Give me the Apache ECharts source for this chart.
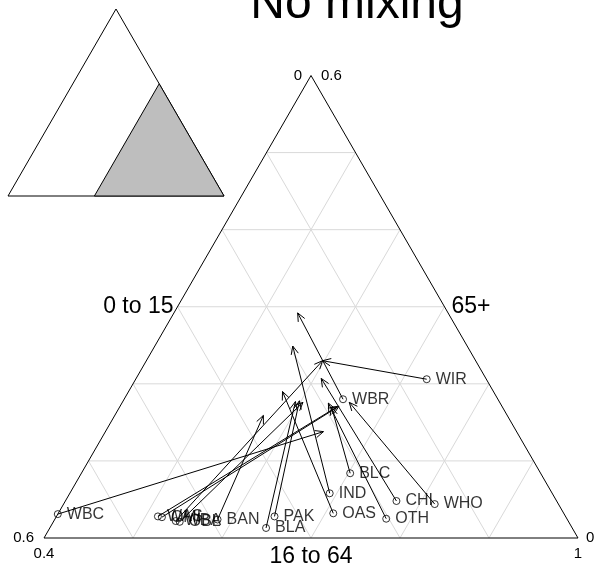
<!DOCTYPE html>
<html><head><meta charset="utf-8">
<script src="https://cdn.jsdelivr.net/npm/echarts/dist/echarts.min.js"></script>
<style>html,body{margin:0;padding:0;background:#fff}#c{width:616px;height:577px}</style>
</head><body><div id="c"></div>
<script>
// ---- data (shares of each age band) ----
const groups = ['WBR','WIR','WHO','WBC','WAS','OMI','WBA','OBL','IND','PAK','BAN','OAS','BLC','BLA','CHI','OTH'];
// starting composition (circles)
const start0to15  = [0.174,0.067,0.139,0.569,0.458,0.454,0.441,0.437,0.250,0.327,0.393,0.259,0.214,0.344,0.180,0.203];
const start16to64 = [0.646,0.727,0.817,0.400,0.514,0.519,0.537,0.542,0.692,0.645,0.583,0.709,0.702,0.643,0.772,0.772];
const start65plus = [0.180,0.206,0.044,0.031,0.028,0.027,0.022,0.021,0.058,0.028,0.024,0.032,0.084,0.013,0.048,0.025];
// projected composition (arrow heads)
const end0to15  = [0.169,0.172,0.169,0.217,0.186,0.183,0.172,0.221,0.196,0.224,0.274,0.237,0.192,0.229,0.185,0.193];
const end16to64 = [0.539,0.598,0.655,0.645,0.644,0.646,0.598,0.603,0.555,0.598,0.567,0.573,0.638,0.594,0.608,0.632];
const end65plus = [0.292,0.230,0.176,0.138,0.170,0.171,0.230,0.176,0.249,0.178,0.159,0.190,0.170,0.177,0.207,0.175];

const title = 'No mixing';
const axisTitles = {left:'0 to 15', bottom:'16 to 64', right:'65+'};
// plotted window of the simplex
const min16to64 = 0.4, max16to64 = 1.0;
const max0to15 = 0.6, max65plus = 0.6;
const tickLabels = {leftTop:'0', leftBottom:'0.6', rightTop:'0.6', rightBottom:'0', bottomLeft:'0.4', bottomRight:'1'};
const gridSteps = [0.1,0.2,0.3,0.4,0.5];

// ---- helpers ----
const S3 = Math.sqrt(3)/2;
function tern(p, o){ return [p + o/2, o*S3]; } // (16-64, 65+) -> cartesian in full simplex

const vBL = tern(min16to64, 0), vBR = tern(max16to64, 0), vTop = tern(min16to64, max65plus);

const gridSegs = [];
gridSteps.forEach(v=>{
  gridSegs.push([...tern(min16to64, v), ...tern(1-v, v)]);                 // 65+ = v
  gridSegs.push([...tern(1-v, 0), ...tern(min16to64, 1-min16to64-v)]);      // 0-15 = v
  const p = min16to64 + v;
  gridSegs.push([...tern(p, 0), ...tern(p, 1-p)]);                          // 16-64 = 0.4+v
});

const arrows = groups.map((g,i)=>[...tern(start16to64[i], start65plus[i]), ...tern(end16to64[i], end65plus[i])]);
const pts = groups.map((g,i)=>({name:g, value: tern(start16to64[i], start65plus[i])}));

const FONT = '"Liberation Sans", Arial, Helvetica, sans-serif';
const chart = echarts.init(document.getElementById('c'), null, {renderer:'canvas'});

function txt(x,y,text,size,align,valign){
  return {type:'text', x:x, y:y, style:{text:text, font: size+'px '+FONT, fill:'#000', textAlign:align, textVerticalAlign:valign}};
}

chart.setOption({
  animation:false,
  backgroundColor:'#fff',
  grid:[
    {left:44, top:75.5, width:534, height:462.5},
    {left:8, top:9, width:216, height:187}
  ],
  xAxis:[
    {gridIndex:0, type:'value', min:vBL[0], max:vBR[0], show:false},
    {gridIndex:1, type:'value', min:0, max:1, show:false}
  ],
  yAxis:[
    {gridIndex:0, type:'value', min:0, max:vTop[1], show:false},
    {gridIndex:1, type:'value', min:0, max:S3, show:false}
  ],
  series:[
    {type:'custom', xAxisIndex:1, yAxisIndex:1, data:[[0]], silent:true, z:1,
     renderItem(params, api){
       const A = api.coord(tern(0,0)), B = api.coord(tern(1,0)), C = api.coord(tern(0,1));
       const a = api.coord(vBL), b = api.coord(vBR), c = api.coord(tern(min16to64, 1-min16to64));
       return {type:'group', children:[
         {type:'polygon', shape:{points:[A,B,C]}, style:{fill:'#fff', stroke:'#000', lineWidth:1}},
         {type:'polygon', shape:{points:[a,b,c]}, style:{fill:'#bebebe', stroke:'#000', lineWidth:1}}
       ]};
     }},
    {type:'custom', data:gridSegs, silent:true, z:2, encode:{x:[0,2], y:[1,3]},
     renderItem(params, api){
       const s = api.coord([api.value(0), api.value(1)]), e = api.coord([api.value(2), api.value(3)]);
       return {type:'line', shape:{x1:s[0],y1:s[1],x2:e[0],y2:e[1]}, style:{stroke:'#d9d9d9', lineWidth:1}};
     }},
    {type:'custom', data:[[0]], silent:true, z:3,
     renderItem(params, api){
       const a = api.coord(vBL), b = api.coord(vBR), c = api.coord(vTop);
       const mL = [(a[0]+c[0])/2, (a[1]+c[1])/2], mR = [(b[0]+c[0])/2, (b[1]+c[1])/2], mB = [(a[0]+b[0])/2, a[1]];
       return {type:'group', children:[
         {type:'polygon', shape:{points:[a,b,c]}, style:{fill:null, stroke:'#000', lineWidth:1}},
         txt(c[0]-9, c[1], tickLabels.leftTop, 15, 'right', 'middle'),
         txt(c[0]+10, c[1], tickLabels.rightTop, 15, 'left', 'middle'),
         txt(a[0]-10, a[1], tickLabels.leftBottom, 15, 'right', 'middle'),
         txt(a[0], a[1]+16, tickLabels.bottomLeft, 15, 'center', 'middle'),
         txt(b[0]+8, b[1], tickLabels.rightBottom, 15, 'left', 'middle'),
         txt(b[0], b[1]+16, tickLabels.bottomRight, 15, 'center', 'middle'),
         txt(mL[0]-4, mL[1], axisTitles.left, 23, 'right', 'middle'),
         txt(mR[0]+7, mR[1], axisTitles.right, 23, 'left', 'middle'),
         txt(mB[0], mB[1]+19, axisTitles.bottom, 23, 'center', 'middle')
       ]};
     }},
    {type:'custom', data:arrows, silent:true, z:4, encode:{x:[0,2], y:[1,3]},
     renderItem(params, api){
       const s = api.coord([api.value(0), api.value(1)]), e = api.coord([api.value(2), api.value(3)]);
       const ang = Math.atan2(e[1]-s[1], e[0]-s[0]);
       const L = 9, A = Math.PI/7.5;
       const h1 = [e[0]-L*Math.cos(ang-A), e[1]-L*Math.sin(ang-A)];
       const h2 = [e[0]-L*Math.cos(ang+A), e[1]-L*Math.sin(ang+A)];
       return {type:'group', children:[
         {type:'line', shape:{x1:s[0],y1:s[1],x2:e[0],y2:e[1]}, style:{stroke:'#000', lineWidth:1}},
         {type:'polyline', shape:{points:[h1,e,h2]}, style:{stroke:'#000', fill:null, lineWidth:1}}
       ]};
     }},
    {type:'scatter', data:pts, symbol:'circle', symbolSize:7, z:5, silent:true,
     itemStyle:{color:'rgba(0,0,0,0)', borderColor:'#000', borderWidth:1},
     label:{show:true, position:'right', distance:5, formatter:'{b}', fontSize:16, color:'#000', fontFamily:FONT}}
  ],
  graphic:[
    {type:'text', x:357, y:5, style:{text:title, font:'48px '+FONT, fill:'#000', textAlign:'center', textVerticalAlign:'middle'}}
  ]
});
</script></body></html>
